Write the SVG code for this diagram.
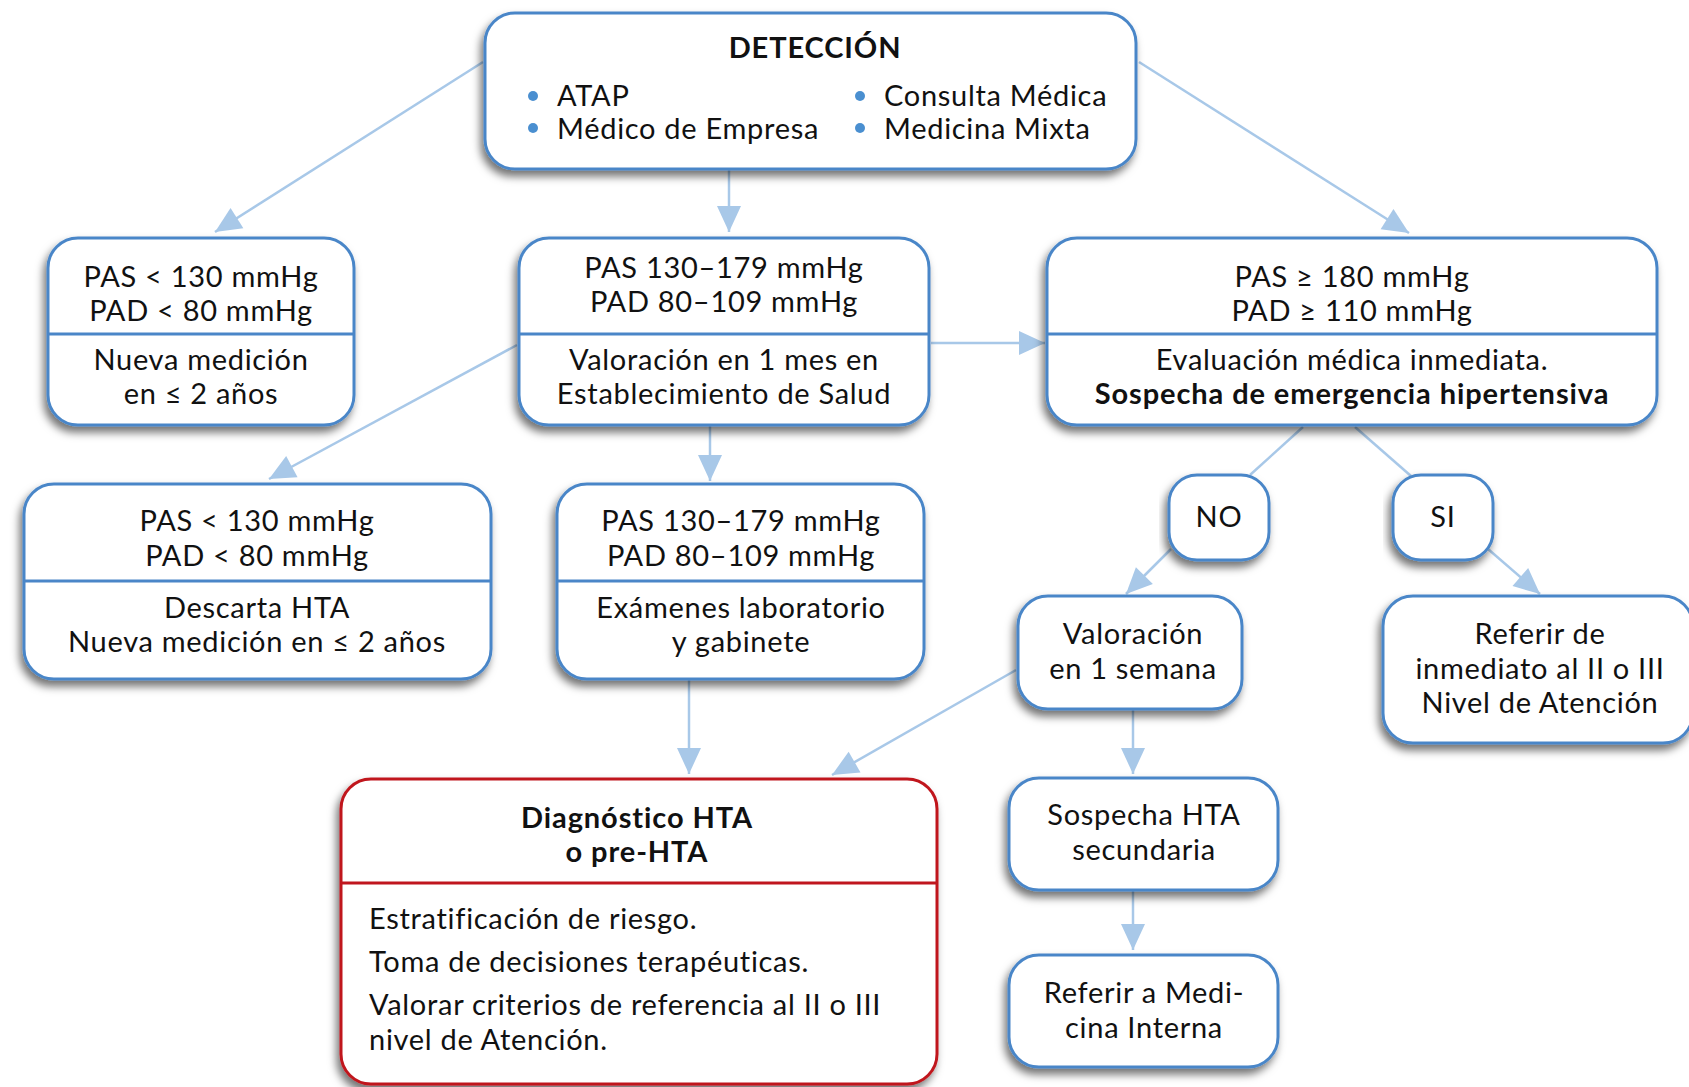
<svg xmlns="http://www.w3.org/2000/svg" width="1689" height="1087" viewBox="0 0 1689 1087">
<style>
.box{fill:#fff;stroke:#4a86c8;stroke-width:3;filter:url(#sh)}
.red{fill:#fff;stroke:#c0161e;stroke-width:3;filter:url(#sh)}
.div{stroke:#4a86c8;stroke-width:3}
.divr{stroke:#c0161e;stroke-width:3}
text{font-family:Lato,"Noto Sans","Liberation Sans",sans-serif;font-size:29px;letter-spacing:0.7px;fill:#111;text-anchor:middle}
.b{font-weight:700;letter-spacing:0.9px}
.l{text-anchor:start}
.c{stroke:#a8c8e8;stroke-width:2.5;fill:none}
.a{marker-end:url(#ah)}
</style>
<defs>
<filter id="sh" x="-10%" y="-10%" width="120%" height="130%">
<feDropShadow dx="-3" dy="6" stdDeviation="4" flood-color="#000" flood-opacity="0.55"/>
</filter>
<marker id="ah" viewBox="0 0 10 10" refX="10" refY="5" markerWidth="10" markerHeight="10" markerUnits="userSpaceOnUse" orient="auto" overflow="visible">
<path d="M-16,-7 L10,5 L-16,17 Z" fill="#a8c8e8" stroke="none"/>
</marker>
</defs>
<g id="connectors">
<line class="c a" x1="483" y1="62" x2="215" y2="232"/>
<line class="c a" x1="729" y1="169" x2="729" y2="232"/>
<line class="c a" x1="1139" y1="62" x2="1409" y2="233"/>
<line class="c a" x1="931" y1="343" x2="1045" y2="343"/>
<line class="c a" x1="517" y1="345" x2="269" y2="479"/>
<line class="c a" x1="710" y1="425" x2="710" y2="481"/>
<line class="c" x1="1303" y1="427" x2="1250" y2="475"/>
<line class="c" x1="1355" y1="427" x2="1411" y2="476"/>
<line class="c a" x1="1171" y1="549" x2="1126" y2="594"/>
<line class="c a" x1="1488" y1="549" x2="1540" y2="594"/>
<line class="c a" x1="689" y1="679" x2="689" y2="774"/>
<line class="c a" x1="1016" y1="670" x2="832" y2="775"/>
<line class="c a" x1="1133" y1="709" x2="1133" y2="774"/>
<line class="c a" x1="1133" y1="890" x2="1133" y2="950"/>
</g>
<g id="deteccion">
<rect class="box" x="485" y="13" width="651" height="156" rx="30"/>
<text class="b" x="815" y="58">DETECCIÓN</text>
<circle cx="533" cy="96" r="5" fill="#4a8fd0"/>
<circle cx="533" cy="128" r="5" fill="#4a8fd0"/>
<circle cx="860" cy="96" r="5" fill="#4a8fd0"/>
<circle cx="860" cy="128" r="5" fill="#4a8fd0"/>
<text class="l" x="557" y="106">ATAP</text>
<text class="l" x="557" y="139">Médico de Empresa</text>
<text class="l" x="884" y="106">Consulta Médica</text>
<text class="l" x="884" y="139">Medicina Mixta</text>
</g>
<g id="normal1">
<rect class="box" x="48" y="238" width="306" height="187" rx="30"/>
<line class="div" x1="48" y1="334" x2="354" y2="334"/>
<text x="201" y="287">PAS &lt; 130 mmHg</text>
<text x="201" y="321">PAD &lt; 80 mmHg</text>
<text x="201" y="370">Nueva medición</text>
<text x="201" y="404">en ≤ 2 años</text>
</g>
<g id="rango1">
<rect class="box" x="519" y="238" width="410" height="187" rx="30"/>
<line class="div" x1="519" y1="334" x2="929" y2="334"/>
<text x="724" y="278">PAS 130–179 mmHg</text>
<text x="724" y="312">PAD 80–109 mmHg</text>
<text x="724" y="370">Valoración en 1 mes en</text>
<text x="724" y="404">Establecimiento de Salud</text>
</g>
<g id="alta">
<rect class="box" x="1047" y="238" width="610" height="187" rx="30"/>
<line class="div" x1="1047" y1="334" x2="1657" y2="334"/>
<text x="1352" y="287">PAS ≥ 180 mmHg</text>
<text x="1352" y="321">PAD ≥ 110 mmHg</text>
<text x="1352" y="370">Evaluación médica inmediata.</text>
<text class="b" x="1352" y="404">Sospecha de emergencia hipertensiva</text>
</g>
<g id="normal2">
<rect class="box" x="24" y="484" width="467" height="195" rx="30"/>
<line class="div" x1="24" y1="581" x2="491" y2="581"/>
<text x="257" y="531">PAS &lt; 130 mmHg</text>
<text x="257" y="566">PAD &lt; 80 mmHg</text>
<text x="257" y="618">Descarta HTA</text>
<text x="257" y="652">Nueva medición en ≤ 2 años</text>
</g>
<g id="rango2">
<rect class="box" x="557" y="484" width="367" height="195" rx="30"/>
<line class="div" x1="557" y1="581" x2="924" y2="581"/>
<text x="741" y="531">PAS 130–179 mmHg</text>
<text x="741" y="566">PAD 80–109 mmHg</text>
<text x="741" y="618">Exámenes laboratorio</text>
<text x="741" y="652">y gabinete</text>
</g>
<g id="no">
<rect class="box" x="1169" y="475" width="100" height="85" rx="28"/>
<text x="1219" y="527">NO</text>
</g>
<g id="si">
<rect class="box" x="1393" y="475" width="100" height="85" rx="28"/>
<text x="1443" y="527">SI</text>
</g>
<g id="valoracion">
<rect class="box" x="1018" y="596" width="224" height="113" rx="30"/>
<text x="1133" y="644">Valoración</text>
<text x="1133" y="679">en 1 semana</text>
</g>
<g id="referir-inmediato">
<rect class="box" x="1383" y="596" width="310" height="147" rx="30"/>
<text x="1540" y="644">Referir de</text>
<text x="1540" y="679">inmediato al II o III</text>
<text x="1540" y="713">Nivel de Atención</text>
</g>
<g id="sospecha">
<rect class="box" x="1009" y="778" width="269" height="112" rx="30"/>
<text x="1144" y="825">Sospecha HTA</text>
<text x="1144" y="860">secundaria</text>
</g>
<g id="medicina-interna">
<rect class="box" x="1009" y="955" width="269" height="112" rx="30"/>
<text x="1144" y="1003">Referir a Medi-</text>
<text x="1144" y="1038">cina Interna</text>
</g>
<g id="diagnostico">
<rect class="red" x="341" y="779" width="596" height="305" rx="30"/>
<line class="divr" x1="341" y1="883" x2="937" y2="883"/>
<text class="b" x="637" y="828">Diagnóstico HTA</text>
<text class="b" x="637" y="862">o pre-HTA</text>
<text class="l" x="369" y="929">Estratificación de riesgo.</text>
<text class="l" x="369" y="972">Toma de decisiones terapéuticas.</text>
<text class="l" x="369" y="1015">Valorar criterios de referencia al II o III</text>
<text class="l" x="369" y="1050">nivel de Atención.</text>
</g>
</svg>
